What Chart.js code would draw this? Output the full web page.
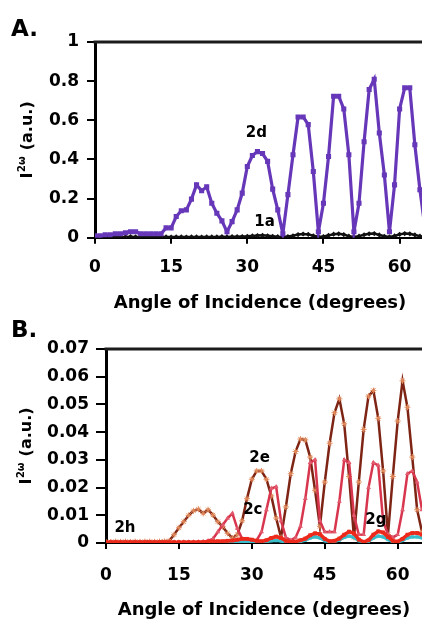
<!DOCTYPE html>
<html><head><meta charset="utf-8">
<script src="https://cdn.jsdelivr.net/npm/chart.js@4.4.0/dist/chart.umd.min.js"></script>
<style>
html,body{margin:0;padding:0;background:#fff;overflow:hidden;width:422px;height:619px;}
#wrap{position:relative;width:422px;height:619px;overflow:hidden;background:#fff;}
#cA{position:absolute;left:0;top:0;}
#cB{position:absolute;left:0;top:310px;}
</style></head><body>
<div id="wrap"><canvas id="cA" width="429" height="315"></canvas><canvas id="cB" width="427" height="309"></canvas></div>
<script>
// ---------- DATA ----------
const angles = [0,1,2,3,4,5,6,7,8,9,10,11,12,13,14,15,16,17,18,19,20,21,22,23,24,25,26,27,28,29,30,31,32,33,34,35,36,37,38,39,40,41,42,43,44,45,46,47,48,49,50,51,52,53,54,55,56,57,58,59,60,61,62,63,64,65];

// Panel A
const s2d = [0.01,0.01,0.015,0.015,0.02,0.02,0.025,0.03,0.03,0.02,0.02,0.02,0.02,0.02,0.05,0.05,0.108,0.138,0.142,0.197,0.27,0.24,0.26,0.176,0.125,0.086,0.03,0.082,0.142,0.228,0.364,0.42,0.44,0.43,0.39,0.248,0.142,0.02,0.22,0.424,0.617,0.617,0.578,0.338,0.03,0.176,0.415,0.723,0.723,0.658,0.424,0.03,0.176,0.49,0.757,0.81,0.535,0.32,0.03,0.27,0.658,0.766,0.766,0.475,0.245,0.05];
const s1a = [0.004,0.004,0.003,0.004,0.004,0.003,0.004,0.005,0.004,0.003,0.003,0.004,0.003,0.004,0.004,0.003,0.004,0.004,0.003,0.004,0.004,0.003,0.004,0.004,0.004,0.005,0.004,0.005,0.005,0.006,0.007,0.009,0.011,0.012,0.010,0.007,0.005,0.004,0.006,0.010,0.016,0.019,0.017,0.010,0.005,0.006,0.012,0.018,0.020,0.016,0.008,0.004,0.008,0.015,0.020,0.021,0.014,0.007,0.004,0.009,0.017,0.021,0.020,0.014,0.008,0.005];

// Panel B
const s2e = [0.0004,0.0004,0.0005,0.0004,0.0005,0.0004,0.0005,0.0004,0.0005,0.0005,0.0004,0.0005,0.0006,0.0008,0.003,0.0055,0.0077,0.010,0.0116,0.0122,0.0107,0.012,0.0101,0.0077,0.0059,0.0035,0.0018,0.003,0.008,0.016,0.023,0.026,0.026,0.023,0.017,0.009,0.002,0.013,0.025,0.033,0.0375,0.0372,0.031,0.019,0.006,0.022,0.036,0.047,0.052,0.043,0.024,0.002,0.022,0.041,0.053,0.055,0.045,0.026,0.003,0.024,0.044,0.0585,0.049,0.031,0.012,0.004];
const s2c = [0.0003,0.0003,0.0003,0.0003,0.0003,0.0003,0.0003,0.0003,0.0003,0.0003,0.0003,0.0003,0.0003,0.0003,0.0003,0.0003,0.0003,0.0003,0.0003,0.0004,0.0005,0.0008,0.0015,0.004,0.0065,0.0089,0.0107,0.0053,0.0015,0.0008,0.0008,0.001,0.004,0.012,0.0197,0.0203,0.008,0.002,0.001,0.002,0.006,0.016,0.029,0.030,0.008,0.004,0.004,0.004,0.015,0.030,0.029,0.010,0.003,0.003,0.020,0.029,0.028,0.008,0.003,0.002,0.003,0.012,0.025,0.026,0.022,0.012];
const s2g = [0.0003,0.0003,0.0003,0.0003,0.0003,0.0003,0.0003,0.0003,0.0003,0.0003,0.0003,0.0003,0.0003,0.0003,0.0003,0.0003,0.0003,0.0003,0.0003,0.0003,0.0003,0.0005,0.0005,0.0006,0.0006,0.0008,0.0009,0.0012,0.0015,0.0015,0.0012,0.0008,0.0006,0.001,0.0018,0.0023,0.0018,0.0008,0.0004,0.0005,0.001,0.0016,0.0028,0.0035,0.0032,0.0015,0.0006,0.0008,0.0016,0.003,0.0041,0.0035,0.0012,0.0004,0.001,0.003,0.0042,0.0038,0.0022,0.0008,0.0005,0.0015,0.003,0.0036,0.0036,0.003];
const s2h = [0.0002,0.0002,0.0002,0.0002,0.0002,0.0002,0.0002,0.0002,0.0002,0.0002,0.0002,0.0002,0.0002,0.0002,0.0002,0.0002,0.0002,0.0002,0.0002,0.0002,0.0002,0.0002,0.0002,0.0002,0.0002,0.0002,0.0002,0.0003,0.0004,0.0004,0.0003,0.0002,0.0002,0.0004,0.0008,0.0009,0.0007,0.0003,0.0002,0.0002,0.0005,0.001,0.0018,0.0022,0.0018,0.0008,0.0003,0.0005,0.001,0.002,0.0025,0.002,0.0008,0.0003,0.0006,0.0018,0.0025,0.0022,0.0012,0.0004,0.0003,0.0009,0.0018,0.0022,0.0022,0.0018];

const xTicks = [0,15,30,45,60];
const xTickLabels = ['0','15','30','45','60'];
const yTicksA = [0,0.2,0.4,0.6,0.8,1];
const yTickLabelsA = ['0','0.2','0.4','0.6','0.8','1'];
const yTicksB = [0,0.01,0.02,0.03,0.04,0.05,0.06,0.07];
const yTickLabelsB = ['0','0.01','0.02','0.03','0.04','0.05','0.06','0.07'];
const xTitle = 'Angle of Incidence (degrees)';

// ---------- HELPERS ----------
const pts = vals => angles.map((a,i)=>({x:a,y:vals[i]}));
const FONT = '"DejaVu Sans", sans-serif';

const decor = {
  id:'decor',
  afterDraw(chart, args, o){
    const ctx = chart.ctx, ca = chart.chartArea;
    const xs = chart.scales.x, ys = chart.scales.y;
    ctx.save();
    ctx.strokeStyle = '#1c1c1c'; ctx.lineWidth = 3;
    ctx.beginPath(); ctx.moveTo(ca.left-1.5, ca.top); ctx.lineTo(chart.width, ca.top); ctx.stroke();
    ctx.fillStyle = '#000';
    ctx.font = 'bold 23px ' + FONT; ctx.textAlign='left'; ctx.textBaseline='middle';
    ctx.fillText(o.letter, o.letterX, o.letterY);
    ctx.font = 'bold 15px ' + FONT; ctx.textAlign='center';
    o.notes.forEach(n => ctx.fillText(n.t, xs.getPixelForValue(n.x), ys.getPixelForValue(n.y)));
    ctx.font = 'bold 18px ' + FONT;
    ctx.fillText(xTitle, (ca.left+ca.right)/2, o.xTitleY);
    ctx.translate(o.yTitleX, (ca.top+ca.bottom)/2);
    ctx.rotate(-Math.PI/2);
    const f1 = 'bold 16px ' + FONT, f2 = 'bold 10px ' + FONT;
    ctx.font = f1; const wI = ctx.measureText('I').width; const wR = ctx.measureText(' (a.u.)').width;
    ctx.font = f2; const wS = ctx.measureText('2ω').width;
    let x0 = -(wI + wS + wR + 1)/2;
    ctx.textAlign='left'; ctx.textBaseline='alphabetic';
    ctx.font = f1; ctx.fillText('I', x0, 6);
    ctx.font = f2; ctx.fillText('2ω', x0 + wI + 0.5, -1);
    ctx.font = f1; ctx.fillText(' (a.u.)', x0 + wI + wS + 1, 6);
    ctx.restore();
  }
};

function makeOptions(cfg){
  return {
    responsive:false, devicePixelRatio:1, animation:false,
    layout:{padding:{top:cfg.top,left:0,right:0,bottom:0}},
    plugins:{legend:{display:false}, tooltip:{enabled:false}, decor:cfg.decor},
    scales:{
      x:{type:'linear', min:0, max:65,
         afterBuildTicks(s){ s.ticks = xTicks.map(v=>({value:v})); },
         afterFit(s){ s.height = cfg.xAxisH; },
         ticks:{callback:(v,i)=>xTickLabels[i], color:'#000', padding:cfg.xPad, maxRotation:0,
                font:{family:'DejaVu Sans', weight:'bold', size:17}},
         grid:{display:true, drawOnChartArea:false, drawTicks:true, tickLength:6, color:'#000', lineWidth:2},
         border:{display:true, color:'#000', width:2}},
      y:{type:'linear', min:0, max:cfg.ymax,
         afterBuildTicks(s){ s.ticks = cfg.yTicks.map(v=>({value:v})); },
         afterFit(s){ s.width = cfg.yAxisW; },
         ticks:{callback:(v,i)=>cfg.yLabels[i], color:'#000', padding:cfg.yPad,
                font:{family:'DejaVu Sans', weight:'bold', size:17}},
         grid:{display:true, drawOnChartArea:false, drawTicks:true, tickLength:cfg.yTick, color:'#000', lineWidth:2},
         border:{display:true, color:'#000', width:3}}
    }
  };
}

// ---------- PANEL A ----------
new Chart(document.getElementById('cA'), {
  type:'line',
  data:{datasets:[
    {label:'2d', data:pts(s2d), borderColor:'#6637b8', backgroundColor:'#6637b8', borderWidth:3.2,
     pointStyle:'rect', pointRadius:3.6, pointBorderWidth:0, tension:0},
    {label:'1a', data:pts(s1a), borderColor:'#111', backgroundColor:'#111', borderWidth:2.5,
     pointStyle:'rectRot', pointRadius:2.6, pointBorderWidth:0, tension:0}
  ]},
  options:makeOptions({top:42, xAxisH:77.3, xPad:14, yAxisW:95, yPad:8, yTick:8, ymax:1,
    yTicks:yTicksA, yLabels:yTickLabelsA,
    decor:{letter:'A.', letterX:11, letterY:30, xTitleY:303, yTitleX:26,
      notes:[{t:'2d', x:31.8, y:0.535},{t:'1a', x:33.4, y:0.082}]}}),
  plugins:[decor]
});

// ---------- PANEL B ----------
new Chart(document.getElementById('cB'), {
  type:'line',
  data:{datasets:[
    {label:'2g', data:pts(s2g), borderColor:'#ec2a1c', backgroundColor:'#ec2a1c', borderWidth:3.5,
     pointStyle:'rect', pointRadius:2.7, pointBorderWidth:0, tension:0},
    {label:'2h', data:pts(s2h), borderColor:'#39bdca', backgroundColor:'#39bdca', borderWidth:3,
     pointStyle:'rect', pointRadius:2.2, pointBorderWidth:0, tension:0},
    {label:'2c', data:pts(s2c), borderColor:'#d8364e', backgroundColor:'#e25a6d', borderWidth:2.5,
     pointStyle:'triangle', pointRadius:2.8, pointBorderWidth:0, tension:0},
    {label:'2e', data:pts(s2e), borderColor:'#7e2414', backgroundColor:'#e58c5c', borderWidth:2.5,
     pointStyle:'star', pointRadius:3, pointBorderColor:'#e58c5c', pointBorderWidth:1, tension:0}
  ]},
  options:makeOptions({top:39, xAxisH:76, xPad:16, yAxisW:106, yPad:7, yTick:10, ymax:0.07,
    yTicks:yTicksB, yLabels:yTickLabelsB,
    decor:{letter:'B.', letterX:11, letterY:21, xTitleY:300, yTitleX:25,
      notes:[{t:'2e', x:31.6, y:0.0306},{t:'2c', x:30.2, y:0.0119},{t:'2g', x:55.5, y:0.0083},{t:'2h', x:3.9, y:0.0053}]}}),
  plugins:[decor]
});
</script>
</body></html>
